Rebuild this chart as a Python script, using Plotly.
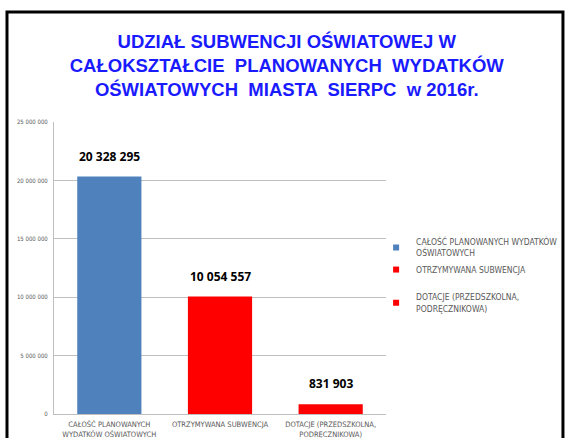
import plotly.graph_objects as go

categories = ["CAŁOŚĆ PLANOWANYCH<br>WYDATKÓW OŚWIATOWYCH",
              "OTRZYMYWANA SUBWENCJA",
              "DOTACJE (PRZEDSZKOLNA,<br>PODRĘCZNIKOWA)"]
legend_names = ["CAŁOŚĆ PLANOWANYCH WYDATKÓW<br>OŚWIATOWYCH",
                "OTRZYMYWANA SUBWENCJA",
                "DOTACJE (PRZEDSZKOLNA,<br>PODRĘCZNIKOWA)"]
values = [20328295, 10054557, 831903]
colors = ["#4F81BD", "#FF0000", "#FF0000"]
legend_ids = ["legend", "legend", "legend2"]
y_ticks = [0, 5000000, 10000000, 15000000, 20000000, 25000000]
title_text = ("UDZIAŁ SUBWENCJI OŚWIATOWEJ W<br>"
              "CAŁOKSZTAŁCIE  PLANOWANYCH  WYDATKÓW<br>"
              "OŚWIATOWYCH  MIASTA  SIERPC  w 2016r.")

fig = go.Figure()
for cat, name, val, col, lg in zip(categories, legend_names, values, colors, legend_ids):
    fig.add_trace(go.Bar(x=[cat], y=[val], name=name, marker_color=col,
                         width=0.58, marker_line_width=0, showlegend=False))
    fig.add_trace(go.Scatter(x=[None], y=[None], mode="markers", name=name,
                             legend=lg,
                             marker=dict(symbol="square", size=6, color=col)))
    fig.add_annotation(x=cat, y=val, text="<b>%s</b>" % f"{val:,}".replace(",", " "),
                       showarrow=False, yanchor="bottom", yshift=10,
                       font=dict(family="Open Sans", size=12, color="#000000"))

legend_font = dict(family="DejaVu Sans Condensed", size=8.5, color="#595959")
fig.update_layout(
    width=569, height=438,
    margin=dict(l=54, r=183, t=122, b=24, autoexpand=False),
    paper_bgcolor="white", plot_bgcolor="white",
    barmode="overlay",
    separators=", ",
    showlegend=True,
    title=dict(text="<b>" + title_text + "</b>", x=0.504, xanchor="center",
               y=0.891, yanchor="top",
               font=dict(family="Liberation Sans", size=18.5, color="#1a1aff")),
    legend=dict(xref="container", yref="container", x=0.661, y=0.475,
                xanchor="left", yanchor="top", font=legend_font,
                itemwidth=30, bgcolor="rgba(0,0,0,0)"),
    legend2=dict(xref="container", yref="container", x=0.661, y=0.349,
                 xanchor="left", yanchor="top", font=legend_font,
                 itemwidth=30, bgcolor="rgba(0,0,0,0)"),
    xaxis=dict(showline=True, linecolor="#BFBFBF", linewidth=1, ticks="",
               ticklabelstandoff=3,
               tickfont=dict(family="DejaVu Sans Condensed", size=7.5, color="#595959")),
    yaxis=dict(range=[0, 25000000], tickvals=y_ticks, tickformat=",d",
               showgrid=True, gridcolor="#BFBFBF", gridwidth=1,
               showline=True, linecolor="#BFBFBF", linewidth=1,
               zeroline=False, ticks="", ticklabelstandoff=4,
               tickfont=dict(family="DejaVu Sans Condensed", size=6, color="#595959")),
    shapes=[dict(type="rect", xref="paper", yref="paper",
                 x0=-0.1416, x1=1.533, y0=-0.11, y1=1.3767,
                 line=dict(color="black", width=3), fillcolor="rgba(0,0,0,0)")],
)

fig.write_html("out.html", config={"displayModeBar": False},
               post_script="document.body.style.margin='0';")
